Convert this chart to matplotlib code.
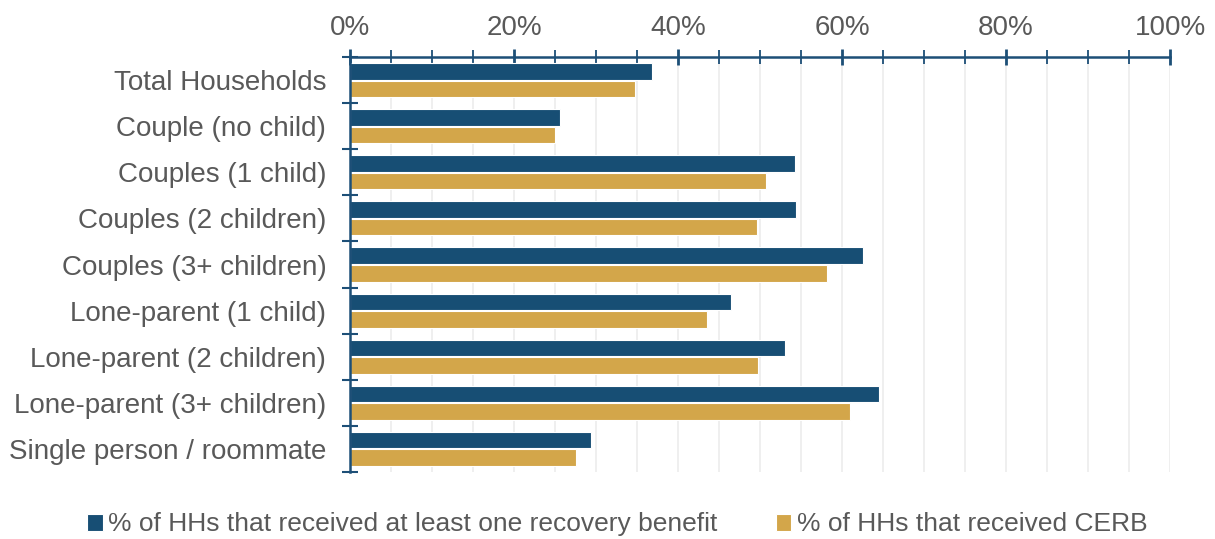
import numpy as np
import matplotlib.pyplot as plt
from matplotlib.ticker import MultipleLocator, FixedLocator, PercentFormatter

plt.rcParams['font.family'] = ['Liberation Sans', 'DejaVu Sans']

categories = ['Total Households', 'Couple (no child)', 'Couples (1 child)',
              'Couples (2 children)', 'Couples (3+ children)', 'Lone-parent (1 child)',
              'Lone-parent (2 children)', 'Lone-parent (3+ children)',
              'Single person / roommate']
any_benefit = [36.8, 25.6, 54.3, 54.4, 62.6, 46.5, 53.0, 64.5, 29.4]
cerb = [34.8, 25.0, 50.7, 49.6, 58.2, 43.5, 49.8, 61.0, 27.6]
series_names = ['% of HHs that received at least one recovery benefit',
                '% of HHs that received CERB']

blue = '#174e74'
gold = '#d3a64a'
axis_col = '#1d4f77'
text_col = '#595959'

fig = plt.figure(figsize=(12.15, 5.39), dpi=100)
ax = fig.add_axes([0.288, 0.1243, 0.675, 0.7699])

y = np.arange(len(categories))
h = 0.36
ax.barh(y - 0.19, any_benefit, height=h, color=blue, edgecolor='white', linewidth=0.8,
        label=series_names[0], zorder=3)
ax.barh(y + 0.19, cerb, height=h, color=gold, edgecolor='white', linewidth=0.8,
        label=series_names[1], zorder=3)

ax.set_xlim(0, 100)
ax.set_ylim(len(categories) - 0.5, -0.5)

# x axis on top, majors every 20%, minors every 5%
ax.xaxis.tick_top()
ax.xaxis.set_major_locator(MultipleLocator(20))
ax.xaxis.set_minor_locator(MultipleLocator(5))
ax.xaxis.set_major_formatter(PercentFormatter(decimals=0))
ax.tick_params(axis='x', which='major', direction='inout', length=11, width=2,
               color=axis_col, labelsize=20, labelcolor=text_col, pad=6)
ax.tick_params(axis='x', which='minor', direction='inout', length=10, width=1.3,
               color=axis_col)
ax.grid(axis='x', which='both', color='#ececec', linewidth=1.2, zorder=0)

# category labels centred, tick marks between categories
ax.set_yticks(y)
ax.set_yticklabels(categories)
ax.yaxis.set_minor_locator(FixedLocator(np.arange(-0.5, len(categories), 1)))
ax.tick_params(axis='y', which='major', length=0, labelsize=20, labelcolor=text_col, pad=17)
ax.tick_params(axis='y', which='minor', direction='inout', length=11, width=1.5,
               color=axis_col)

for side in ['bottom', 'right']:
    ax.spines[side].set_visible(False)
for side in ['top', 'left']:
    ax.spines[side].set_color(axis_col)
    ax.spines[side].set_linewidth(1.8)
    ax.spines[side].set_zorder(4)

fig.legend(loc='center', bbox_to_anchor=(0.508, 0.027), ncol=2, frameon=False,
           fontsize=19, labelcolor=text_col, handlelength=0.6, handleheight=0.6,
           handletextpad=0.2, columnspacing=2.2)

fig.savefig('out.png', dpi=100)
